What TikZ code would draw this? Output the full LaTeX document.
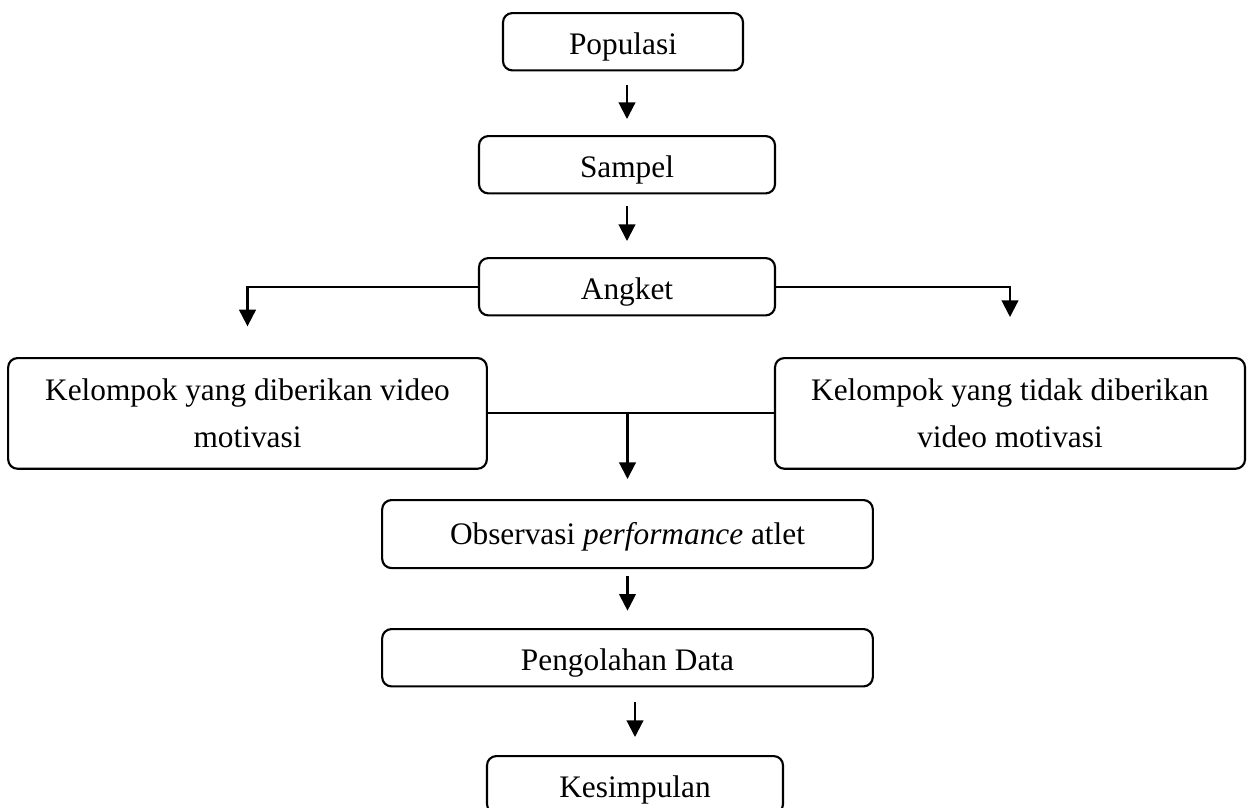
\documentclass[tikz,border=0pt]{standalone}
\usepackage{fontspec}
\setmainfont{Liberation Serif}
\usetikzlibrary{arrows.meta}

\begin{document}
\begin{tikzpicture}[x=0.75pt, y=-0.75pt, line width=1.6pt,
	every node/.style={font=\fontsize{23.5}{35}\selectfont},
	>={Triangle[width=12.5pt,length=12.5pt]},
	kotak/.style={draw, rounded corners=7pt, inner sep=0pt, anchor=north, text height=31pt, text depth=12pt},
	kotakdua/.style={draw, rounded corners=7pt, inner sep=0pt, anchor=north, align=center, minimum height=83pt}]
	\useasboundingbox (0,0) rectangle (1248,807);
	\node[kotak, minimum width=180pt] (pop) at (623,12) {Populasi};
	\node[kotak, minimum width=222pt] (samp) at (627,135) {Sampel};
	\node[kotak, minimum width=222pt] (angket) at (627,257) {Angket};
	\node[kotakdua, minimum width=359pt] (kel1) at (247.5,357) {Kelompok yang diberikan video\\motivasi};
	\node[kotakdua, minimum width=352.5pt] (kel2) at (1010,357) {Kelompok yang tidak diberikan\\video motivasi};
	\node[kotak, minimum width=368pt, text height=33pt, text depth=18pt] (obs) at (627.5,499) {Observasi \textit{performance} atlet};
	\node[kotak, minimum width=368pt] (olah) at (627.5,628) {Pengolahan Data};
	\node[kotak, minimum width=222pt] (simp) at (635,755) {Kesimpulan};
	% alur utama
	\draw[->, shorten <=10.5pt, shorten >=12pt] (samp.north |- pop.south) -- (samp.north);
	\draw[->, shorten <=9pt, shorten >=12pt] (samp.south) -- (angket.north);
	\draw[->, shorten >=23pt] (angket.west) -| (kel1.north);
	\draw[->, shorten >=30pt] (angket.east) -| (kel2.north);
	\draw (kel1.east) -- (kel2.west);
	\coordinate (gabung) at (obs.north |- kel1.east);
	\draw[->, shorten >=15pt] (gabung) -- (obs.north);
	\draw[->, shorten <=5pt, shorten >=13pt] (obs.south) -- (olah.north);
	\draw[->, shorten <=11pt, shorten >=13.5pt] (simp.north |- olah.south) -- (simp.north);
\end{tikzpicture}
\end{document}
